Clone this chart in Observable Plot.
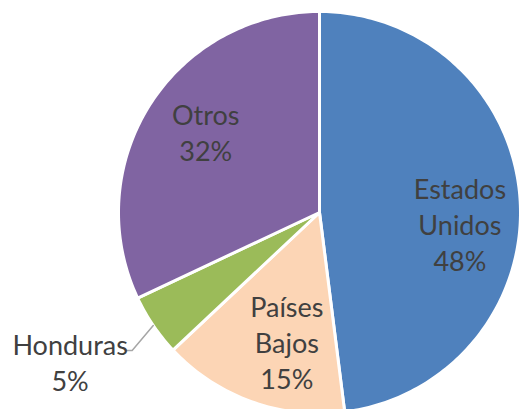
<!DOCTYPE html>
<html>
<head>
<meta charset="utf-8">
<script src="https://cdn.jsdelivr.net/npm/d3@7"></script>
<script src="https://cdn.jsdelivr.net/npm/@observablehq/plot@0.6"></script>
<style>
  html, body { margin: 0; padding: 0; background: #ffffff; }
  #chart { width: 520px; height: 409px; overflow: hidden; }
</style>
</head>
<body>
<div id="chart"></div>
<script>
// ---- Data ----
const categories = ["Estados Unidos", "Países Bajos", "Honduras", "Otros"];
const shares = [48, 15, 5, 32];
const labelNames = ["Estados\nUnidos", "Países\nBajos", "Honduras", "Otros"];
const colors = ["#4F81BD", "#FCD5B5", "#9BBB59", "#8064A2"];

const rows = categories.map((c, i) => ({name: c, share: shares[i], label: labelNames[i] + "\n" + shares[i] + "%"}));
const arcs = d3.pie().sort(null).value(d => d.share)(rows);

// slice polygons in unit coordinates (angle 0 = 12 o'clock, clockwise)
const polys = [];
for (const a of arcs) {
  polys.push({name: a.data.name, x: 0, y: 0});
  const n = Math.max(2, Math.ceil((a.endAngle - a.startAngle) / (Math.PI / 180)));
  for (let k = 0; k <= n; k++) {
    const t = a.startAngle + (a.endAngle - a.startAngle) * k / n;
    polys.push({name: a.data.name, x: Math.sin(t), y: Math.cos(t)});
  }
}

const mid = a => (a.startAngle + a.endAngle) / 2;
const inside = arcs.filter(a => a.data.name !== "Honduras").map(a => ({
  name: a.data.name, label: a.data.label,
  x: 0.7 * Math.sin(mid(a)), y: 0.7 * Math.cos(mid(a))
}));
const hon = arcs.find(a => a.data.name === "Honduras");
const P = {x: Math.sin(mid(hon)), y: Math.cos(mid(hon))};
const elbow = {x: P.x - 0.105, y: P.y - 0.125};
const stubEnd = {x: elbow.x - 0.035, y: elbow.y};
const leader = [P, elbow, stubEnd];

const offsets = {
  "Estados Unidos": [0, 20],
  "Países Bajos": [15, -3],
  "Otros": [5, -6]
};

const textMarks = inside.map(d => Plot.text([d], {
  x: "x", y: "y", text: "label",
  dx: offsets[d.name][0], dy: offsets[d.name][1],
  fill: "#404040", fontSize: 27, lineHeight: 1.333, lineAnchor: "middle", textAnchor: "middle"
}));

const chart = Plot.plot({
  width: 520,
  height: 409,
  margin: 0,
  style: {fontFamily: "Lato, 'Open Sans', sans-serif", background: "#ffffff"},
  x: {domain: [-1, 1], range: [118, 520], axis: null},
  y: {domain: [-1, 1], range: [413, 11], axis: null},
  color: {domain: categories, range: colors},
  marks: [
    Plot.line(polys, {x: "x", y: "y", z: "name", fill: "name", stroke: "#ffffff", strokeWidth: 3, curve: "linear-closed", strokeLinejoin: "round"}),
    Plot.line(leader, {x: "x", y: "y", stroke: "#A6A6A6", strokeWidth: 1.5}),
    ...textMarks,
    Plot.text([{x: stubEnd.x, y: stubEnd.y, label: hon.data.label}], {
      x: "x", y: "y", text: "label", dx: -55, dy: 11,
      fill: "#404040", fontSize: 27, lineHeight: 1.333, lineAnchor: "middle", textAnchor: "middle"
    })
  ]
});
document.getElementById("chart").appendChild(chart);
</script>
</body>
</html>
